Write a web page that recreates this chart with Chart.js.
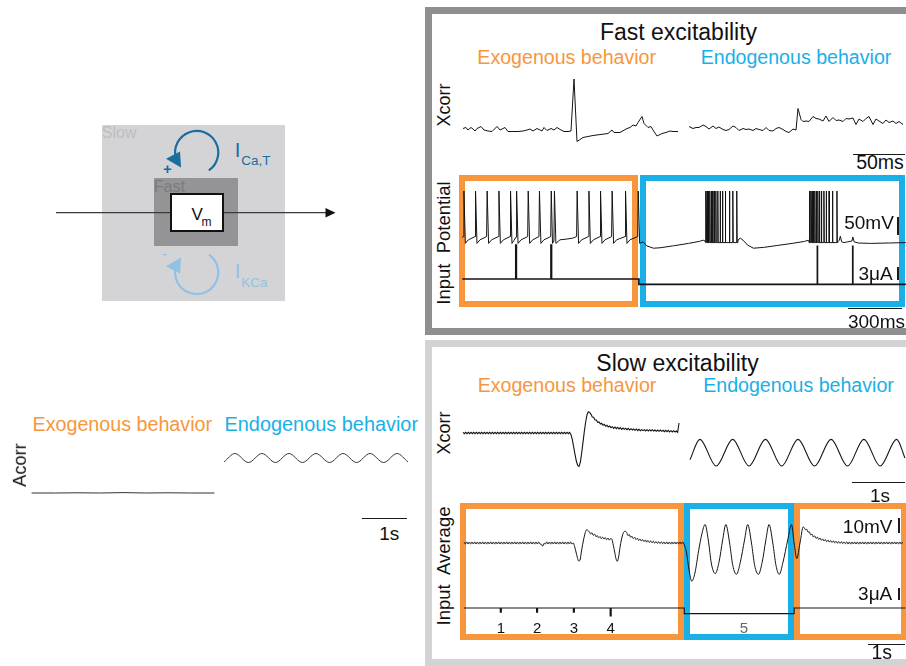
<!DOCTYPE html>
<html>
<head>
<meta charset="utf-8">
<title>Fast and slow excitability</title>
<script src="https://cdn.jsdelivr.net/npm/chart.js"></script>
<style>
  html, body { margin: 0; padding: 0; background: #fff; }
  #fig { position: relative; width: 906px; height: 666px; overflow: hidden; background: #fff;
         font-family: "Liberation Sans", Arial, Helvetica, sans-serif; color: #111; }
  #fig > * { position: absolute; }
  .t { line-height: 1; white-space: pre; }
  .frame { box-sizing: border-box; }
  svg text { font-family: "Liberation Sans", Arial, Helvetica, sans-serif; }
</style>
</head>
<body>
<div id="fig">
  <!-- schematic: slow / fast feedback loops around Vm -->
  <svg width="906" height="666" style="left:0;top:0">
    <rect x="102" y="125" width="183" height="176" fill="#d4d4d6"/>
    <text x="101.8" y="137.5" font-size="16" fill="#bdbdbf">Slow</text>
    <rect x="154" y="178" width="84" height="68" fill="#949496"/>
    <text x="153.8" y="191.5" font-size="16" fill="#7b7b7d">Fast</text>
    <line x1="56" y1="212.7" x2="327" y2="212.7" stroke="#3a3a3a" stroke-width="1.2"/>
    <polygon points="335.5,212.7 325.5,208 325.5,217.4" fill="#111"/>
    <rect x="171" y="194" width="52" height="37" fill="#fff" stroke="#111" stroke-width="2"/>
    <text x="191.5" y="220" font-size="17" fill="#111">V</text>
    <text x="201.6" y="226" font-size="12" fill="#111">m</text>
    <g>
      <path d="M208.8,170.4 A21.6,21.6 0 1 0 175.8,158.1" fill="none" stroke="#1b6d9e" stroke-width="2.2"/>
      <polygon points="166,158.7 180,151.5 181,167.5" fill="#1b6d9e"/>
    </g>
    <g transform="matrix(1 0 0 -1 0 425)">
      <path d="M208.8,170.4 A21.6,21.6 0 1 0 175.8,158.1" fill="none" stroke="#8ec3e6" stroke-width="2.2"/>
      <polygon points="166,158.7 180,151.5 181,167.5" fill="#8ec3e6"/>
    </g>
    <text x="167.5" y="173.5" font-size="15" font-weight="bold" text-anchor="middle" fill="#1b6d9e">+</text>
    <text x="164.5" y="258.5" font-size="16" text-anchor="middle" fill="#8ec3e6">-</text>
    <text x="234.8" y="156.7" font-size="20.5" fill="#1b6d9e">I</text>
    <text x="241.2" y="165" font-size="13.5" fill="#1b6d9e">Ca,T</text>
    <text x="234.8" y="278.3" font-size="20.5" fill="#8ec3e6">I</text>
    <text x="241.2" y="286.7" font-size="13.5" fill="#8ec3e6">KCa</text>
  </svg>

  <!-- panel frames -->
  <div class="frame" style="left:425px;top:7px;width:500px;height:328px;border:7px solid #8f8f91;"></div>
  <div class="frame" style="left:425px;top:340px;width:500px;height:326px;border:7px solid #d3d3d3;"></div>

  <!-- behaviour boxes -->
  <div class="frame" style="left:459px;top:175px;width:179px;height:132px;border:6px solid #F7963C;"></div>
  <div class="frame" style="left:640px;top:175px;width:265px;height:132px;border:6px solid #19B0E8;"></div>
  <div class="frame" style="left:460px;top:503px;width:224px;height:137px;border:6px solid #F7963C;"></div>
  <div class="frame" style="left:684px;top:503px;width:110px;height:137px;border:6px solid #19B0E8;"></div>
  <div class="frame" style="left:794px;top:503px;width:113px;height:137px;border:6px solid #F7963C;"></div>
</div>

<script>
// ================= data =================

// Fast excitability, cross-correlation [lag (ms), normalised value]
const fastXcorrExo = [
  [-108,0.03],[-105,0.05],[-103,0],[-100,0.05],[-98,0.02],[-96,-0.02],[-94,0.03],[-90,0.07],[-87,0],[-83,-0.02],
  [-79,-0.03],[-74,0.07],[-71,0],[-66,0.05],[-63,-0.03],[-58,-0.03],[-53,-0.03],[-48,-0.02],[-44,0],[-41,0.02],
  [-38,-0.02],[-34,0.03],[-29,-0.02],[-27,0.05],[-24,-0.01],[-20,0.03],[-17,0],[-14,0.05],[-10,0],[-7,-0.03],
  [-3,-0.03],[0,-0.02],[3,1.02],[6,-0.23],[12,-0.15],[22,-0.11],[37,-0.07],[41,0],[43,-0.05],[49,-0.05],
  [56,0.03],[59,0.05],[62,0.10],[65,0.08],[67,0.15],[71,0.27],[73,0.13],[76,0.07],[77,0.05],[80,0.07],
  [82,0],[86,-0.12],[91,-0.07],[95,-0.05],[99,-0.02],[102,-0.03],[107,-0.03]
];
const fastXcorrEndo = [
  [-108,0.07],[-104,0.03],[-101,0.05],[-98,0.05],[-94,0.10],[-91,0.07],[-88,0.02],[-84,0.08],[-81,0.03],[-78,0.06],
  [-74,0.01],[-71,-0.01],[-68,0.01],[-64,0.08],[-61,0.05],[-58,-0.01],[-54,0.03],[-51,0.01],[-48,0.02],[-44,-0.01],
  [-41,0.03],[-38,0.01],[-34,-0.01],[-31,0.05],[-28,-0.01],[-24,-0.02],[-21,0.03],[-18,0.05],[-14,0.01],[-11,-0.03],
  [-8,-0.05],[-4,0.02],[-1,0],[1,0.43],[4,0.21],[6,0.17],[9,0.18],[12,0.17],[16,0.27],[19,0.23],
  [22,0.22],[26,0.18],[29,0.28],[32,0.17],[36,0.25],[39,0.19],[42,0.20],[46,0.17],[49,0.23],[52,0.22],
  [56,0.24],[59,0.11],[62,0.22],[66,0.17],[69,0.23],[72,0.27],[76,0.11],[79,0.22],[82,0.18],[86,0.13],
  [89,0.20],[92,0.15],[96,0.18],[99,0.13],[102,0.17],[106,0.11]
];

// Fast excitability, membrane potential [time (ms), mV]
const fastPotExo = [
  [12,-51],[19,-49],[22,65],[30,-66],[47,-57],[84,-49],[87,65],[95,-66],[112,-57],[149,-49],
  [152,65],[160,-66],[177,-57],[215,-49],[218,65],[226,-66],[243,-57],[280,-49],[283,65],[291,-66],
  [303,-58],[314,-50],[317,65],[325,-66],[342,-57],[379,-49],[382,65],[390,-66],[407,-57],[442,-49],
  [445,65],[453,-66],[470,-57],[508,-49],[511,65],[518,-66],[526,-60],[529,65],[537,-66],[560,-57],
  [600,-55],[630,-53],[653,-49],[656,65],[664,-66],[681,-57],[719,-49],[722,65],[730,-66],[747,-57],
  [784,-49],[787,65],[795,-66],[812,-57],[849,-49],[852,65],[860,-66],[877,-57],[924,-49],[927,65],
  [935,-66],[952,-57],[995,-49],[998,65],[1006,-66]
];
const fastPotEndoPre = [[1025,-62],[1045,-72],[1083,-78],[1120,-77],[1195,-72],[1280,-66],[1340,-61],[1362,-58],[1372,-60]];
const burst1Times = [1376,1383,1390,1398,1406,1413,1422,1432,1443,1456,1469,1485,1508,1527,1549];
const fastPotEndoMid = [[1556,-60],[1562,-55],[1570,-53],[1585,-58],[1610,-70],[1643,-78],[1700,-76],[1780,-71],[1860,-66],[1930,-61],[1950,-58]];
const burst2Times = [1956,1964,1971,1978,1986,1994,2003,2012,2023,2037,2050,2066,2085,2110];
const fastPotEndoPost = [[2116,-62],[2124,-58],[2130,-48],[2137,-62],[2150,-64],[2172,-62],[2195,-60],[2200,-50],[2207,-62],[2230,-65],[2300,-66],[2400,-65],[2497,-64]];
const spikePeak = 65;
const burstTrough = -64;

// Fast excitability, injected current (µA)
const fastPulseTimes = [314, 511, 2001, 2199];
const fastPulseAmps  = [7.9, 7.9, 9.0, 9.0];
const fastStepTime = 1002;
const fastStepAmp = -1.23;

// Slow excitability, cross-correlation (lag in s)
const slowXcorrExoStart = -2.025;
const slowXcorrExoStep = 0.025;
const slowXcorrExo = [
  0.02,-0.02,0.02,-0.02,0.02,-0.02,0.02,-0.02,0.02,-0.02,0.02,-0.02,0.02,-0.02,0.02,-0.02,0.02,-0.02,0.02,-0.02,
  0.02,-0.02,0.02,-0.02,0.02,-0.02,0.02,-0.02,0.02,-0.02,0.02,-0.02,0.02,-0.02,0.02,-0.02,0.02,-0.02,0.02,-0.02,
  0.02,-0.02,0.02,-0.02,0.02,-0.02,0.02,-0.02,0.02,-0.02,0.02,-0.02,0.02,-0.02,0.02,-0.02,0.02,-0.02,0.02,-0.02,
  0.02,-0.02,0.02,-0.02,0.02,-0.02,0.02,-0.02,0.02,-0.02,0.02,-0.02,0.02,-0.02,0.02,-0.02,0.02,-0.02,0.02,-0.02,
  0.02,-0.05,-0.2,-0.42,-0.64,-0.84,-0.97,-1.0,-0.88,-0.6,-0.28,0.05,0.33,0.55,0.64,0.62,0.56,
  0.48,0.47,0.39,0.39,0.32,0.33,0.27,0.29,0.23,0.26,
  0.20,0.23,0.18,0.21,0.16,0.19,0.14,0.18,0.13,0.17,
  0.12,0.16,0.11,0.15,0.11,0.14,0.10,0.14,0.09,0.13,
  0.09,0.12,0.08,0.12,0.07,0.11,0.07,0.10,0.07,0.10,
  0.06,0.10,0.06,0.10,0.06,0.10,0.06,0.09,0.05,0.09,
  0.05,0.09,0.05,0.08,0.04,0.08,0.04,0.08,0.03,0.07,
  0.03,0.07,0.03,0.06,0.02,0.30
];
const slowXcorrEndo = [
  [-2.025,-0.8],[-1.84,-0.19],[-1.535,-0.99],[-1.225,-0.19],[-0.92,-0.99],[-0.61,-0.19],[-0.305,-0.99],[0,-0.19],
  [0.31,-0.99],[0.62,-0.19],[0.93,-0.99],[1.235,-0.19],[1.54,-0.99],[1.85,-0.19],[2.006,-0.75]
];

// Slow excitability, averaged potential (s, mV relative to rest)
const slowAvgStep = 0.025;
const slowAvgExoStart = 0;
const slowAvgExo = [
  0.7,-0.7,0.7,-0.7,0.7,-0.7,0.7,-0.7,0.7,-0.7,0.7,-0.7,0.7,-0.7,0.7,-0.7,0.7,-0.7,0.7,-0.7,
  0.7,-0.7,0.7,-0.7,0.7,-0.7,0.7,-0.7,0.7,-0.7,0.7,-0.7,0.7,-0.7,0.7,-0.7,0.7,-0.7,0.7,-0.7,
  0.7,-0.7,0.7,-0.7,0.7,-0.7,0.7,-0.7,0.7,-0.7,0.7,-0.7,0.7,-0.7,0.7,-0.7,0.7,-0.7,
  -0.8,-2.2,-0.3,-0.7,
  0.7,-0.7,0.7,-0.7,0.7,-0.7,0.7,-0.7,0.7,-0.7,0.7,-0.7,0.7,-0.7,0.7,-0.7,0.7,-0.7,0.7,-0.7,
  0,-2.5,-6,-9.5,-12,-11.5,-6,-1,3.5,7,8.9,8.3,7.5,
  6.0,6.8,5.1,5.9,4.2,4.9,3.4,4.3,2.9,3.9,2.5,3.6,2.2,3.3,1.9,3.0,2.3,
  -1.5,-6,-10.5,-12.2,-9,-3,2,5.5,7.5,7.8,7.0,
  4.9,5.6,3.8,4.5,2.9,3.8,2.3,3.2,1.7,2.7,1.3,2.3,0.9,2.0,0.6,1.7,0.3,1.4,0.1,1.2,
  -0.1,1.0,-0.3,0.9,-0.4,0.8,-0.5,0.7,
  -0.7,0.7,-0.7,0.7,-0.7,0.7,-0.7,0.7,-0.7,0.7,-0.7,0.7,-0.7,0.7,-0.7
];
const slowAvgEndo = [
  [4.17,-6],[4.22,-18],[4.27,-25.5],[4.33,-20],[4.40,-5],[4.46,6],[4.52,12.3],[4.58,2],[4.64,-14],[4.71,-20.4],
  [4.78,-13],[4.85,2],[4.91,12.3],[4.98,0],[5.04,-15],[5.11,-20.9],[5.18,-13],[5.26,2],[5.32,12.3],[5.39,0],
  [5.45,-15],[5.52,-20.9],[5.59,-13],[5.66,2],[5.72,12.3],[5.79,0],[5.85,-15],[5.91,-20.9],[5.98,-13],[6.07,2],
  [6.14,12.3],[6.19,0],[6.24,-10.4],[6.30,0],[6.36,10.7]
];
const slowAvgPostStart = 6.375;
const slowAvgPost = [
  10.4,8.9,9.2,7.2,7.5,5.4,5.9,4.0,4.7,3.1,3.9,2.4,3.3,1.8,2.75,1.3,2.3,0.9,1.95,0.6,
  1.65,0.3,1.4,0.1,1.2,-0.1,1.0,-0.3,0.9,-0.4,0.8,-0.5,0.7,
  -0.7,0.7,-0.7,0.7,-0.7,0.7,-0.7,0.7,-0.7,0.7,-0.7,0.7,-0.7,0.7,-0.7,0.7,-0.7,0.7,-0.7,0.7,
  -0.7,0.7,-0.7,0.7,-0.7,0.7,-0.7,0.7,-0.7,0.7,-0.7,0.7,-0.7,0.7,-0.7,0.7,-0.7,0.7,-0.7,0.7,
  -0.7,0.7
];

// Slow excitability, injected current (µA)
const slowPulseTimes = [0.69, 1.37, 2.06, 2.75];
const slowPulseAmps  = [-1.0, -1.0, -1.0, -1.95];
const slowStepOn = 4.13;
const slowStepOff = 6.19;
const slowStepAmp = -1.37;
const stimLabels = ['1', '2', '3', '4', '5'];
const stimLabelTimes = [0.69, 1.37, 2.06, 2.75, 5.25];
const stimLabelColors = ['#111', '#111', '#111', '#111', '#666'];

// Autocorrelation (lag in s)
const acorrExo = [[-2.03,0],[-1.5,0],[-1.0,0.01],[-0.5,0],[0,0.02],[0.5,0],[1.0,0.01],[1.5,0],[2.03,0]];
const acorrEndo = [
  [-2.04,-0.13],[-1.8,0.15],[-1.5,-0.15],[-1.2,0.15],[-0.9,-0.15],[-0.6,0.15],[-0.3,-0.15],[0,0.15],
  [0.3,-0.15],[0.6,0.15],[0.9,-0.15],[1.2,0.15],[1.5,-0.15],[1.8,0.15],[2.04,-0.13]
];

// ================= drawing =================
const ORANGE = '#F7963C';
const BLUE = '#19B0E8';
const INK = '#141414';
const fig = document.getElementById('fig');

const xy = arr => arr.map(([x, y]) => ({ x, y }));
const uniform = (start, step, vals) => vals.map((v, i) => [+(start + i * step).toFixed(4), v]);
const spikes = (times, base, peak) => times.flatMap(t => [[t, base], [t + 0.8, peak], [t + 3, base]]);

function stimulusTrace(t0, t1, stepOn, stepOff, stepAmp, pulseTimes, pulseAmps, halfWidth) {
  const level = t => (t >= stepOn && t < stepOff) ? stepAmp : 0;
  const ev = pulseTimes.map((t, k) => ({ t, a: pulseAmps[k], pulse: true }));
  ev.push({ t: stepOn, pulse: false });
  if (isFinite(stepOff)) ev.push({ t: stepOff, pulse: false });
  ev.sort((a, b) => a.t - b.t);
  const pts = [[t0, level(t0)]];
  for (const e of ev) {
    if (e.pulse) {
      const b = level(e.t);
      pts.push([e.t - halfWidth, b], [e.t - halfWidth, b + e.a], [e.t + halfWidth, b + e.a], [e.t + halfWidth, b]);
    } else {
      pts.push([e.t, level(e.t - 1e-6)], [e.t, level(e.t)]);
    }
  }
  pts.push([t1, level(t1)]);
  return pts;
}

function trace(data, opts) {
  return Object.assign({
    data: xy(data), borderColor: INK, borderWidth: 1, pointRadius: 0, fill: false,
    clip: false, tension: 0, xAxisID: 'x', yAxisID: 'y'
  }, opts || {});
}

function makeChart(box, scales, datasets, plugins) {
  const c = document.createElement('canvas');
  c.width = box.w; c.height = box.h;
  Object.assign(c.style, { left: box.x + 'px', top: box.y + 'px', width: box.w + 'px', height: box.h + 'px' });
  fig.appendChild(c);
  const sc = {};
  for (const id in scales) {
    sc[id] = { type: 'linear', min: scales[id][0], max: scales[id][1], display: false };
  }
  return new Chart(c, {
    type: 'line',
    data: { datasets },
    options: {
      responsive: false, animation: false, devicePixelRatio: 1, events: [],
      layout: { padding: 0 },
      plugins: { legend: { display: false }, tooltip: { enabled: false } },
      scales: sc
    },
    plugins: plugins || []
  });
}

// Fast excitability: cross-correlations
makeChart({ x: 461, y: 70, w: 220, h: 80 }, { x: [-110, 110], y: [-0.4, 1.2] }, [trace(fastXcorrExo)]);
makeChart({ x: 687, y: 70, w: 220, h: 80 }, { x: [-110, 110], y: [-0.4, 1.2] }, [trace(fastXcorrEndo)]);

// Fast excitability: potential and input
const fastPotential = [].concat(
  fastPotExo, fastPotEndoPre, spikes(burst1Times, burstTrough, spikePeak),
  fastPotEndoMid, spikes(burst2Times, burstTrough, spikePeak), fastPotEndoPost
);
const fastInput = stimulusTrace(13, 2497, fastStepTime, Infinity, fastStepAmp, fastPulseTimes, fastPulseAmps, 1.5);
makeChart({ x: 460, y: 180, w: 446, h: 110 },
  { x: [0, 2497.6], y: [-182.5, 92.5], yI: [-2.558, 23.02] },
  [trace(fastPotential, { borderWidth: 1 }), trace(fastInput, { yAxisID: 'yI', borderWidth: 1.7 })]);

// Slow excitability: cross-correlations
makeChart({ x: 460, y: 400, w: 222, h: 75 }, { x: [-2.081, 2.081], y: [-1.26, 0.99] },
  [trace(uniform(slowXcorrExoStart, slowXcorrExoStep, slowXcorrExo), { borderWidth: 1.1 })]);
makeChart({ x: 688, y: 400, w: 220, h: 75 }, { x: [-2.0625, 2.0625], y: [-1.26, 0.99] },
  [trace(slowXcorrEndo, { borderWidth: 1.1, cubicInterpolationMode: 'monotone' })]);

// Slow excitability: averaged potential and input, with stimulus numbering
const slowAverage = [].concat(
  uniform(slowAvgExoStart, slowAvgStep, slowAvgExo), slowAvgEndo, uniform(slowAvgPostStart, slowAvgStep, slowAvgPost)
);
const slowInput = stimulusTrace(0, 8.275, slowStepOn, slowStepOff, slowStepAmp, slowPulseTimes, slowPulseAmps, 0.01);
const stimLabelPlugin = {
  id: 'stimLabels',
  afterDatasetsDraw(chart) {
    const { ctx, chartArea, scales } = chart;
    ctx.save();
    ctx.font = '15px "Liberation Sans", Arial, sans-serif';
    ctx.textAlign = 'center';
    ctx.textBaseline = 'alphabetic';
    stimLabels.forEach((s, k) => {
      ctx.fillStyle = stimLabelColors[k];
      ctx.fillText(s, scales.x.getPixelForValue(stimLabelTimes[k]), chartArea.bottom - 7.3);
    });
    ctx.restore();
  }
};
makeChart({ x: 460, y: 505, w: 446, h: 135 },
  { x: [-0.075, 8.2875], y: [-64.67, 25.33], yI: [-7.805, 25.12] },
  [trace(slowAverage, { cubicInterpolationMode: 'monotone' }), trace(slowInput, { yAxisID: 'yI', borderWidth: 1.1 })],
  [stimLabelPlugin]);

// Autocorrelations
makeChart({ x: 28, y: 473, w: 190, h: 40 }, { x: [-2.109, 2.109], y: [-1, 1] },
  [trace(acorrExo, { borderColor: '#333' })]);
makeChart({ x: 224, y: 440, w: 184, h: 36 }, { x: [-2.0424, 2.0424], y: [-0.6, 0.6] },
  [trace(acorrEndo, { borderColor: '#333', cubicInterpolationMode: 'monotone' })]);

// ================= text and scale bars =================
function label(str, x, base, size, color) {
  const d = document.createElement('div');
  d.className = 't';
  d.textContent = str;
  Object.assign(d.style, {
    fontSize: size + 'px', color: color || '#111', left: x + 'px',
    top: (base - 0.8465 * size) + 'px', transform: 'translateX(-50%)'
  });
  fig.appendChild(d);
}
function vlabel(str, cx, cy, size) {
  const d = document.createElement('div');
  d.className = 't';
  d.textContent = str;
  Object.assign(d.style, {
    fontSize: size + 'px', left: cx + 'px', top: cy + 'px',
    transform: 'translate(-50%,-50%) rotate(-90deg)'
  });
  fig.appendChild(d);
}
function bar(x, y, w, h) {
  const d = document.createElement('div');
  Object.assign(d.style, { left: x + 'px', top: y + 'px', width: w + 'px', height: h + 'px', background: '#1a1a1a' });
  fig.appendChild(d);
}

label('Fast excitability', 678.5, 40, 23);
label('Exogenous behavior', 566.7, 64.3, 19.6, ORANGE);
label('Endogenous behavior', 796, 64.3, 19.6, BLUE);
label('Slow excitability', 677.5, 371.7, 23);
label('Exogenous behavior', 567, 392.7, 19.6, ORANGE);
label('Endogenous behavior', 798.5, 392.7, 19.6, BLUE);
label('Exogenous behavior', 122.3, 431.7, 19.7, ORANGE);
label('Endogenous behavior', 321.3, 431.7, 19.9, BLUE);

vlabel('Xcorr', 444, 105, 18);
vlabel('Input  Potential', 444, 242.5, 18.5);
vlabel('Xcorr', 444, 432.5, 18);
vlabel('Input  Average', 444, 565.5, 18.5);
vlabel('Acorr', 20, 465, 18.3);

label('50ms', 880, 169.3, 19.5);
label('50mV', 869, 229.3, 19);
label('3\u03bcA', 875.5, 280, 19);
label('300ms', 876.5, 327.7, 19);
label('1s', 880, 501.7, 19);
label('10mV', 867.7, 532.7, 19);
label('3\u03bcA', 875.2, 600, 19);
label('1s', 881.7, 659.3, 19.5);
label('1s', 389.2, 540, 19);

bar(853, 153.5, 52, 1.2);
bar(848, 307.8, 54, 1.2);
bar(852, 481.8, 53, 1.2);
bar(868, 643.8, 37, 1.2);
bar(362, 517.8, 45, 1.2);
bar(897, 217, 1.5, 18);
bar(897, 267, 1.5, 13);
bar(898, 518, 1.5, 15);
bar(898, 588, 1.5, 12);
</script>
</body>
</html>
